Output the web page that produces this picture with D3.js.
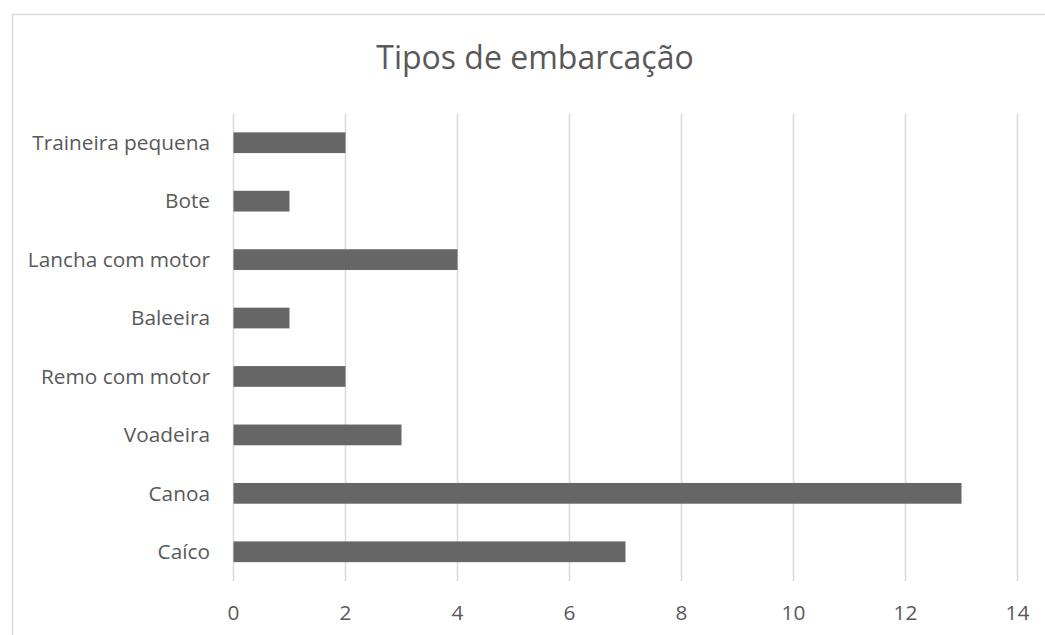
<!DOCTYPE html>
<html>
<head>
<meta charset="utf-8">
<script src="https://cdn.jsdelivr.net/npm/d3@7"></script>
<style>
  body { margin: 0; background: #fff; }
  text { font-family: "Open Sans", sans-serif; fill: #595959; }
</style>
</head>
<body>
<div id="chart"></div>
<script>
// categorias de baixo para cima como no Excel
var categories = ["Caíco", "Canoa", "Voadeira", "Remo com motor", "Baleeira", "Lancha com motor", "Bote", "Traineira pequena"];
var values = [7, 13, 3, 2, 1, 4, 1, 2];
var ticks = [0, 2, 4, 6, 8, 10, 12, 14];

var width = 1045, height = 635;

var svg = d3.select("#chart").append("svg")
  .attr("width", width)
  .attr("height", height);

// borda da área do gráfico
svg.append("rect")
  .attr("x", 12.5)
  .attr("y", 14.5)
  .attr("width", 1060)
  .attr("height", 700)
  .attr("fill", "none")
  .attr("stroke", "#d9d9d9")
  .attr("stroke-width", 1.5);

svg.append("text")
  .attr("x", 535)
  .attr("y", 69)
  .attr("text-anchor", "middle")
  .style("font-size", "32px")
  .text("Tipos de embarcação");

var x = d3.scaleLinear()
  .domain([0, 14])
  .range([233.5, 1017.5]);

var y = d3.scaleBand()
  .domain(categories.slice().reverse())
  .range([113.5, 581])
  .paddingInner(0.645)
  .paddingOuter(0.3225);

svg.selectAll(".grid")
  .data(ticks)
  .enter()
  .append("line")
  .attr("class", "grid")
  .attr("x1", function(d) { return x(d); })
  .attr("x2", function(d) { return x(d); })
  .attr("y1", 113.5)
  .attr("y2", 581)
  .attr("stroke", "#d9d9d9")
  .attr("stroke-width", 1.5);

svg.selectAll(".bar")
  .data(values)
  .enter()
  .append("rect")
  .attr("class", "bar")
  .attr("x", x(0))
  .attr("y", function(d, i) { return y(categories[i]); })
  .attr("width", function(d) { return x(d) - x(0); })
  .attr("height", y.bandwidth())
  .attr("fill", "#666666");

svg.selectAll(".cat")
  .data(categories)
  .enter()
  .append("text")
  .attr("class", "cat")
  .attr("x", 210)
  .attr("y", function(d) { return y(d) + y.bandwidth() / 2; })
  .attr("dy", "0.35em")
  .attr("text-anchor", "end")
  .style("font-size", "20.8px")
  .text(function(d) { return d; });

svg.selectAll(".tick")
  .data(ticks)
  .enter()
  .append("text")
  .attr("class", "tick")
  .attr("x", function(d) { return x(d); })
  .attr("y", 613)
  .attr("dy", "0.35em")
  .attr("text-anchor", "middle")
  .style("font-size", "20.8px")
  .text(function(d) { return d; });
</script>
</body>
</html>
